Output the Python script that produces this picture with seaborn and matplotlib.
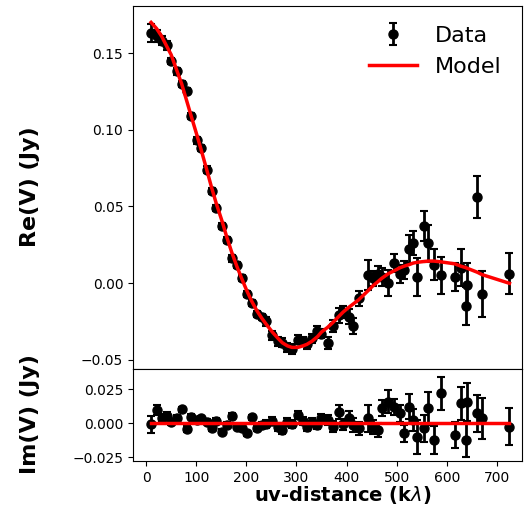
import numpy as np
import pandas as pd
import matplotlib
matplotlib.use("Agg")
import matplotlib.pyplot as plt
import seaborn as sns

# uv-distance of the binned visibilities (klambda)
uv = [10, 21, 31, 42, 50, 61, 71, 81, 90, 101,
      109, 121, 131, 140, 152, 161, 171, 181, 192, 201,
      211, 221, 231, 240, 252, 263, 272, 282, 291, 303,
      313, 321, 331, 342, 350, 362, 372, 384, 393, 404,
      412, 424, 443, 452, 463, 470, 483, 495, 507, 515,
      525, 533, 541, 554, 563, 574, 588, 616, 628, 638,
      640, 661, 670, 725]

re_vis = [0.163, 0.161, 0.158, 0.155, 0.145, 0.138, 0.130, 0.125, 0.109, 0.093,
          0.088, 0.074, 0.060, 0.049, 0.037, 0.028, 0.016, 0.012, 0.003, -0.007,
          -0.013, -0.020, -0.022, -0.025, -0.034, -0.038, -0.039, -0.042, -0.043, -0.037,
          -0.038, -0.040, -0.036, -0.031, -0.033, -0.039, -0.028, -0.021, -0.019, -0.022,
          -0.028, -0.010, 0.005, 0.003, 0.006, 0.004, 0.000, 0.013, 0.006, 0.0085,
          0.022, 0.026, 0.004, 0.037, 0.026, 0.012, 0.005, 0.004, 0.010, -0.015,
          -0.001, 0.056, -0.007, 0.006]

im_vis = [-0.001, 0.0096, 0.0035, 0.0054, 0.0005, 0.004, 0.010, -0.0044, 0.0047, 0.002,
          0.0035, 0.001, -0.004, 0.0015, -0.0064, -0.0015, 0.0051, -0.0027, -0.004, -0.0076,
          0.0042, -0.004, -0.0015, -0.001, 0.0015, -0.0027, -0.005, 0.0005, -0.001, 0.006,
          0.0015, -0.0027, 0.001, -0.0015, 0.0035, 0.0022, -0.0027, 0.0083, -0.001, 0.0035,
          -0.0015, -0.004, 0.0035, -0.0027, -0.005, 0.0108, 0.0157, 0.012, 0.0071, -0.0076,
          0.012, 0.0022, -0.010, -0.004, 0.0108, -0.0125, 0.0218, -0.0088, 0.0145, -0.0125,
          0.0157, 0.0071, 0.0035, -0.0027]

vis_err = [0.006, 0.004, 0.003, 0.003, 0.002, 0.002, 0.002, 0.002, 0.002, 0.002,
           0.002, 0.002, 0.002, 0.002, 0.002, 0.002, 0.002, 0.002, 0.002, 0.002,
           0.002, 0.002, 0.002, 0.003, 0.003, 0.003, 0.003, 0.003, 0.003, 0.003,
           0.003, 0.003, 0.003, 0.003, 0.003, 0.004, 0.004, 0.005, 0.004, 0.005,
           0.005, 0.005, 0.0098, 0.005, 0.005, 0.006, 0.0086, 0.006, 0.006, 0.006,
           0.009, 0.008, 0.0125, 0.0098, 0.012, 0.010, 0.012, 0.0092, 0.012, 0.0125,
           0.014, 0.0136, 0.015, 0.0135]

model_re = [0.170, 0.166, 0.161, 0.154, 0.149, 0.139, 0.130, 0.119, 0.109, 0.097,
            0.088, 0.074, 0.062, 0.052, 0.040, 0.030, 0.020, 0.011, 0.002, -0.005,
            -0.012, -0.018, -0.023, -0.027, -0.032, -0.036, -0.039, -0.041, -0.042, -0.042,
            -0.041, -0.040, -0.038, -0.035, -0.032, -0.029, -0.026, -0.022, -0.019, -0.016,
            -0.014, -0.011, -0.005, -0.002, 0.001, 0.003, 0.006, 0.008, 0.010, 0.011,
            0.012, 0.013, 0.0135, 0.014, 0.0143, 0.0143, 0.0138, 0.0125, 0.011, 0.010,
            0.0097, 0.007, 0.0055, -0.0002]

model_im_uv = [10, 725]
model_im = [0.0, 0.0]

df = pd.DataFrame({"uv": uv, "re": re_vis, "im": im_vis, "err": vis_err, "model": model_re})
df_im_model = pd.DataFrame({"uv": model_im_uv, "model": model_im})

W, H = 524, 509
fig = plt.figure(figsize=(W / 100, H / 100), dpi=100)
left = 133 / W
width = (522 - 133) / W
ax1 = fig.add_axes([left, 1 - 369 / H, width, (369 - 6) / H])
ax2 = fig.add_axes([left, 1 - 461 / H, width, (461 - 369) / H], sharex=ax1)

eb_kw = dict(fmt="o", color="black", ms=6.5, elinewidth=2, capsize=3, capthick=1.5)

data_h = ax1.errorbar(df["uv"], df["re"], yerr=df["err"], label="Data", zorder=2, **eb_kw)
sns.lineplot(data=df, x="uv", y="model", ax=ax1, color="red", lw=2.5,
             sort=False, estimator=None, zorder=3, legend=False)
model_h = ax1.lines[-1]

ax2.errorbar(df["uv"], df["im"], yerr=df["err"], zorder=2, **eb_kw)
sns.lineplot(data=df_im_model, x="uv", y="model", ax=ax2, color="red", lw=2.5,
             sort=False, estimator=None, zorder=3, legend=False)

ax1.set_xlim(-26, 750)
ax1.set_ylim(-0.0561, 0.1807)
ax2.set_ylim(-0.0279, 0.0397)

ax1.set_yticks([-0.05, 0.0, 0.05, 0.10, 0.15])
ax2.set_yticks([-0.025, 0.0, 0.025])
ax2.set_xticks([0, 100, 200, 300, 400, 500, 600, 700])
ax1.tick_params(axis="x", bottom=False, labelbottom=False)

for a in (ax1, ax2):
    a.set_ylabel("")
    a.set_xlabel("")
    a.tick_params(labelsize=10)

fig.text(343 / W, 1 - 495 / H, r"uv-distance (k$\lambda$)", ha="center", va="center",
         fontsize=14, fontweight="bold")
fig.text(30 / W, 1 - 187 / H, "Re(V) (Jy)", rotation=90, ha="center", va="center",
         fontsize=16, fontweight="bold")
fig.text(30 / W, 1 - 414 / H, "Im(V) (Jy)", rotation=90, ha="center", va="center",
         fontsize=16, fontweight="bold")

ax1.legend([data_h, model_h], ["Data", "Model"], loc="upper right", frameon=False,
           fontsize=16, handlelength=2.2)

fig.savefig("out.png", dpi=100)
